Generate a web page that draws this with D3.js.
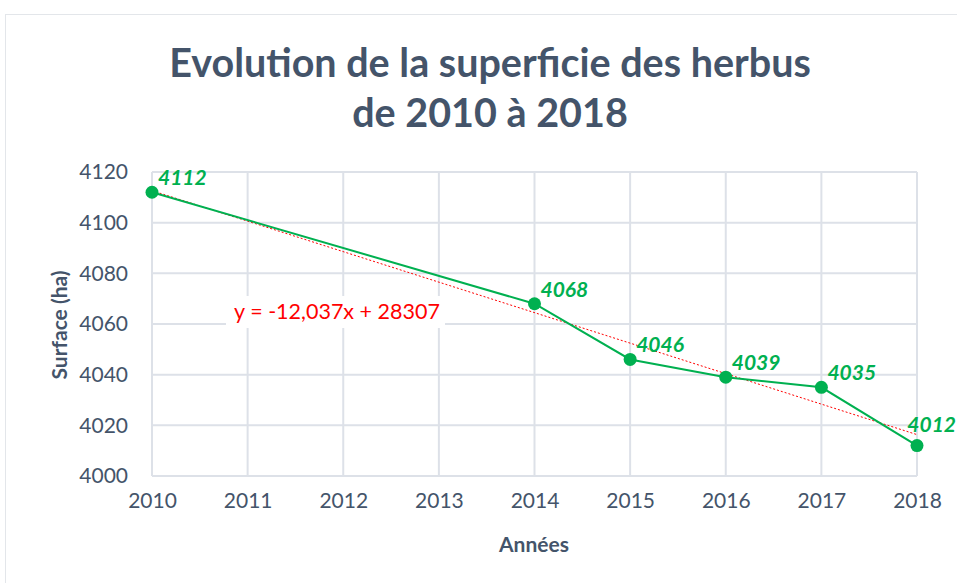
<!DOCTYPE html>
<html><head><meta charset="utf-8">
<script src="https://cdn.jsdelivr.net/npm/d3@7"></script>
<style>body{margin:0;background:#fff}svg{display:block}</style>
</head><body>
<script>
const years = [2010, 2014, 2015, 2016, 2017, 2018];
const surface = [4112, 4068, 4046, 4039, 4035, 4012];
const xTicks = [2010, 2011, 2012, 2013, 2014, 2015, 2016, 2017, 2018];
const yTicks = [4000, 4020, 4040, 4060, 4080, 4100, 4120];
const trendSlope = -12.037, trendIntercept = 28307;
const trendLabel = "y = -12,037x + 28307";
const titleLines = ["Evolution de la superficie des herbus", "de 2010 à 2018"];
const xTitle = "Années", yTitle = "Surface (ha)";

const W = 957, H = 583;
const svg = d3.select("body").append("svg").attr("width", W).attr("height", H);
const font = "Lato, 'Open Sans', sans-serif";
const textCol = "#44546A", gridCol = "#DDE1E8", green = "#00B050";

svg.append("rect").attr("x", 5.5).attr("y", 14.5).attr("width", 1000).attr("height", 1000)
  .attr("fill", "#fff").attr("stroke", "#E3E6EA");

const x = d3.scaleLinear().domain([2010, 2018]).range([152, 917]);
const y = d3.scaleLinear().domain([4000, 4120]).range([476, 172]);

// grid
const g = svg.append("g");
g.selectAll("line.h").data(yTicks).join("line")
  .attr("x1", x(2010)).attr("x2", x(2018)).attr("y1", d => y(d)).attr("y2", d => y(d))
  .attr("stroke", gridCol).attr("stroke-width", 2);
g.selectAll("line.v").data(xTicks).join("line")
  .attr("y1", y(4000)).attr("y2", y(4120)).attr("x1", d => x(d)).attr("x2", d => x(d))
  .attr("stroke", gridCol).attr("stroke-width", 2);

// axes labels via d3 axes
const xa = svg.append("g").attr("transform", `translate(0,${y(4000) + 14})`)
  .call(d3.axisBottom(x).tickValues(xTicks).tickFormat(d3.format("d")).tickSize(0));
xa.select(".domain").remove();
xa.selectAll("text").attr("font-family", font).attr("font-size", 21).attr("fill", textCol);

const ya = svg.append("g").attr("transform", `translate(${x(2010) - 21},0)`)
  .call(d3.axisLeft(y).tickValues(yTicks).tickFormat(d3.format("d")).tickSize(0));
ya.select(".domain").remove();
ya.selectAll("text").attr("font-family", font).attr("font-size", 21).attr("fill", textCol);

// titles
const t = svg.append("text").attr("x", 490).attr("font-family", font).attr("font-weight", 700)
  .attr("font-size", 39.5).attr("fill", textCol).attr("text-anchor", "middle");
t.selectAll("tspan").data(titleLines).join("tspan").attr("x", 490)
  .attr("y", (d, i) => 77 + i * 50).text(d => d);

svg.append("text").attr("x", 534).attr("y", 552).attr("text-anchor", "middle")
  .attr("font-family", font).attr("font-weight", 700).attr("font-size", 21).attr("fill", textCol).text(xTitle);
svg.append("text").attr("transform", "translate(67,325) rotate(-90)").attr("text-anchor", "middle")
  .attr("font-family", font).attr("font-weight", 700).attr("font-size", 21).attr("fill", textCol).text(yTitle);

// trend line
const tl = d3.line().x(d => x(d)).y(d => y(trendSlope * d + trendIntercept));
svg.append("path").datum([2010, 2018]).attr("d", tl).attr("fill", "none")
  .attr("stroke", "#FF0000").attr("stroke-width", 1).attr("stroke-dasharray", "2,2");

// series line
const line = d3.line().x((d, i) => x(years[i])).y(d => y(d));
svg.append("path").datum(surface).attr("d", line).attr("fill", "none")
  .attr("stroke", green).attr("stroke-width", 2);
svg.selectAll("circle.pt").data(surface).join("circle")
  .attr("cx", (d, i) => x(years[i])).attr("cy", d => y(d)).attr("r", 6.5).attr("fill", green);

// data labels (kept inside the picture like the chart tool does)
svg.selectAll("text.lbl").data(surface).join("text")
  .attr("y", (d, i) => y(d) - (i === surface.length - 1 ? 14 : 7))
  .attr("font-family", font).attr("font-weight", 700).attr("font-style", "italic")
  .attr("font-size", 21).attr("fill", green).text(d => d)
  .each(function(d, i) {
    const len = this.getComputedTextLength();
    d3.select(this).attr("x", Math.min(x(years[i]) + 6, W - len - 1));
  });

// trend label
const tg = svg.append("g");
tg.append("rect").attr("x", 226).attr("y", 296).attr("width", 219).attr("height", 32).attr("fill", "#fff");
tg.append("text").attr("x", 337).attr("y", 319).attr("text-anchor", "middle")
  .attr("font-family", font).attr("font-size", 21.5).attr("fill", "#FF0000").text(trendLabel);
</script>
</body></html>
